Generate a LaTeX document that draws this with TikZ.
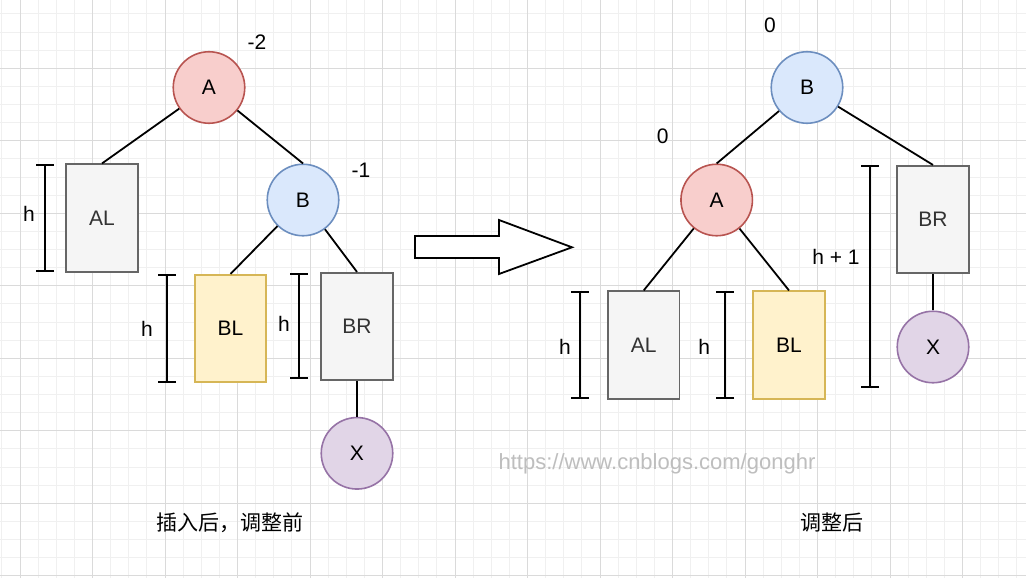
\documentclass[tikz,border=0pt]{standalone}
\usepackage{fontspec}
\setmainfont{Liberation Sans}
\newfontfamily\cjk{Noto Sans CJK SC}
\usetikzlibrary{arrows.meta}

\definecolor{redfill}{HTML}{F8CECC}
\definecolor{redline}{HTML}{B85450}
\definecolor{bluefill}{HTML}{DAE8FC}
\definecolor{blueline}{HTML}{6C8EBF}
\definecolor{grayfill}{HTML}{F5F5F5}
\definecolor{grayline}{HTML}{666666}
\definecolor{graytext}{HTML}{333333}
\definecolor{yellowfill}{HTML}{FFF2CC}
\definecolor{yellowline}{HTML}{D6B656}
\definecolor{purplefill}{HTML}{E1D5E7}
\definecolor{purpleline}{HTML}{9673A6}
\definecolor{gridminor}{HTML}{F0F0F0}
\definecolor{gridmajor}{HTML}{DADADA}
\definecolor{mark}{HTML}{BEBEBE}

\begin{document}
\begin{tikzpicture}[x=1pt, y=-1pt,
  every node/.style={font=\fontsize{21}{25}\selectfont},
  ball/.style={draw, circle, minimum size=71.5pt, inner sep=0pt, line width=1.6pt},
  box/.style={draw, rectangle, minimum width=71.5pt, minimum height=107.5pt, inner sep=0pt, line width=1.6pt},
  redball/.style={ball, fill=redfill, draw=redline},
  blueball/.style={ball, fill=bluefill, draw=blueline},
  purpleball/.style={ball, fill=purplefill, draw=purpleline},
  graybox/.style={box, fill=grayfill, draw=grayline, text=graytext},
  yellowbox/.style={box, fill=yellowfill, draw=yellowline},
  link/.style={line width=1.8pt},
  height/.style={line width=1.8pt, {Bar[width=18pt]}-{Bar[width=18pt]}}
]

% background grid
\useasboundingbox (0,0) rectangle (1026,578);
\fill[white] (0,0) rectangle (1026,578);
\foreach \i in {0,...,56} \draw[gridminor, line width=1pt] ({1.875+18.125*\i},0) -- ++(0,578);
\foreach \j in {1,...,32} \draw[gridminor, line width=1pt] (0,{-4.2+18.125*\j}) -- ++(1026,0);
\foreach \i in {0,...,13} \draw[gridmajor, line width=1pt] ({20+72.5*\i},0) -- ++(0,578);
\foreach \j in {1,...,8} \draw[gridmajor, line width=1pt] (0,{-4.2+72.5*\j}) -- ++(1026,0);

% before
\node[redball] (A1) at (209, 87.5) {A};
\node[blueball] (B1) at (303, 200) {B};
\node[graybox] (AL1) at (102, 218) {AL};
\node[yellowbox] (BL1) at (230.5, 328.5) {BL};
\node[graybox] (BR1) at (357, 326.5) {BR};
\node[purpleball] (X1) at (357, 453.3) {X};

\node (f1) at (257, 42) {-2};
\node (f2) at (361, 170) {-1};

\draw[link] (A1) -- (AL1.north);
\draw[link] (A1) -- (B1.north);
\draw[link] (B1) -- (BL1.north);
\draw[link] (B1) -- (BR1.north);
\draw[link] (BR1) -- (X1);

\draw[height] (45, 164) -- (45, 272);
\node (h1) at (29, 214) {h};
\draw[height] (167, 274) -- (167, 383);
\node (h2) at (147, 329) {h};
\draw[height] (299, 273) -- (299, 379);
\node (h3) at (284, 324) {h};

\node (cap1) at (230, 523) {\cjk 插入后，调整前};

% arrow
\draw[line width=1.8pt, line join=miter, fill=white] (415, 236) -- (499, 236) -- (499, 220) -- (572, 247.3)
  -- (499, 274) -- (499, 258) -- (415, 258) -- cycle;

% after
\node[blueball] (B2) at (807, 87.5) {B};
\node[redball] (A2) at (716.7, 200) {A};
\node[graybox] (AL2) at (643.7, 345) {AL};
\node[yellowbox] (BL2) at (789, 345) {BL};
\node[graybox] (BR2) at (933, 219.5) {BR};
\node[purpleball] (X2) at (933, 347) {X};

\node (f3) at (770, 25) {0};
\node (f4) at (662.7, 136) {0};

\draw[link] (B2) -- (A2.north);
\draw[link] (B2) -- (BR2.north);
\draw[link] (A2) -- (AL2.north);
\draw[link] (A2) -- (BL2.north);
\draw[link] (BR2) -- (X2);

\draw[height] (580, 291) -- (580, 399);
\node (h4) at (565, 346.7) {h};
\draw[height] (725, 291) -- (725, 399);
\node (h5) at (704.3, 346.7) {h};
\draw[height] (870, 165) -- (870, 388);
\node (h6) at (836, 257) {h + 1};

\node[text=mark, font=\fontsize{22}{26}\selectfont] (url) at (657, 464) {https://www.cnblogs.com/gonghr};
\node (cap2) at (832, 523) {\cjk 调整后};

\end{tikzpicture}
\end{document}
